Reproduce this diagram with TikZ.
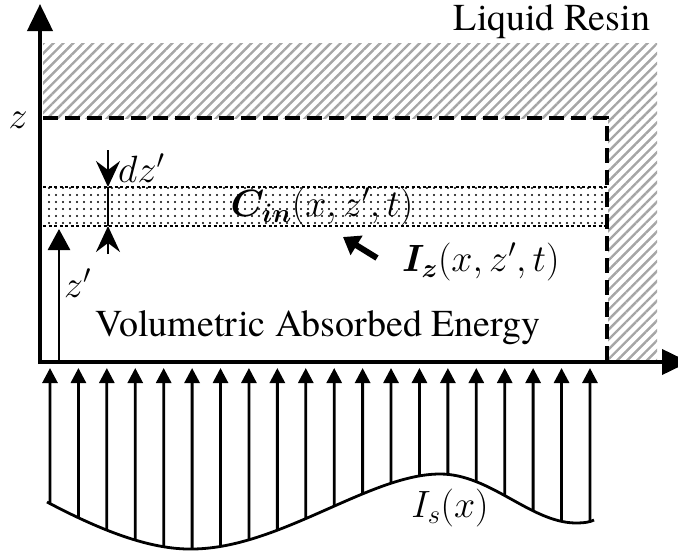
\RequirePackage{fix-cm}
\documentclass[tikz,border=0pt]{standalone}
\usepackage{amsmath}
\usepackage{bm}
\usepackage{fontspec}
\setmainfont{texgyretermes}[Extension=.otf,UprightFont=*-regular,BoldFont=*-bold,ItalicFont=*-italic,BoldItalicFont=*-bolditalic]
\usepackage{tikz}
\usetikzlibrary{arrows.meta,patterns.meta,intersections,calc}

\begin{document}
\begin{tikzpicture}[
  x=1pt,y=-1pt,
  font=\rmfamily\fontsize{38}{40}\selectfont,
  lbl/.style={inner sep=0pt},
  axis/.style={line width=4pt,-{Triangle[length=27pt,width=25pt]}},
  ray/.style={line width=2.8pt,-{Triangle[length=15pt,width=15pt]}},
  gap/.style={line width=2.6pt,-{Stealth[length=26pt,width=24pt,inset=9pt]}},
  flux/.style={line width=6pt,-{Triangle[length=16pt,width=22pt]}},
  resin/.style={pattern={Lines[angle=45,distance=7pt,line width=2.4pt]},pattern color=black!35},
  layer/.style={pattern={Dots[distance=7pt,radius=1.1pt]},pattern color=black},
  dotline/.style={line width=2.3pt,dash pattern=on 3pt off 2.5pt},
  bound/.style={line width=3.5pt,dash pattern=on 15pt off 7pt}
]
\useasboundingbox (0,0) rectangle (678,552);

% liquid resin around the cured part
\fill[resin] (43,43) rectangle (657,118);
\fill[resin] (608,118) rectangle (657,360);

% thin layer dz'
\fill[layer] (43,187) rectangle (607,226);
\draw[dotline] (43,187) -- (607,187);
\draw[dotline] (43,226) -- (607,226);

% cured boundary
\draw[bound] (43,118) -- (607,118) -- (607,360);

% axes
\coordinate (O) at (40,362);
\coordinate (ztop) at (40,4);
\coordinate (xend) at (689,362);
\draw[axis] (40,364) -- (ztop);
\draw[axis] (38,362) -- (xend);

% layer thickness
\coordinate (dtop) at (108,187);
\coordinate (dbot) at (108,226);
\draw[gap] (108,150) -- (dtop);
\draw[line width=2.6pt] (dtop) -- (dbot);
\draw[gap] (108,254) -- (dbot);

% height z'
\coordinate (zfoot) at (59,362);
\coordinate (zhead) at (59,229);
\draw[line width=2.8pt,-{Triangle[length=21pt,width=22pt]}] (zfoot) -- (zhead);

% local intensity
\coordinate (ftail) at (377,258);
\coordinate (fhead) at (343,237);
\draw[flux] (ftail) -- (fhead);

% source intensity profile
\draw[line width=2.8pt,name path=profile]
  (47,502) .. controls (100,530) and (150,550) .. (193,549)
  .. controls (280,548) and (370,474) .. (440,474)
  .. controls (490,474) and (530,522) .. (575,523)
  .. controls (585,523) and (590,522) .. (594,520);
\foreach \i in {0,...,19}{
  \pgfmathsetmacro\xx{50+28.42*\i}
  \path[name path=vert] (\xx,380) -- (\xx,600);
  \path[name intersections={of=vert and profile,by=foot}];
  \draw[ray] (foot) -- (\xx,368);
}

% labels
\node[lbl] (zlab) at (18,120) {$z$};
\node[lbl] (resinlab) at (552,22) {Liquid Resin};
\node[lbl,anchor=west] (dzlab) at (118,168) {$dz'$};
\node[lbl,anchor=west] (zplab) at (64,283) {$z'$};
\node[lbl] (cinlab) at (322,207) {$\bm{C}_{\bm{in}}(x,z',t)$};
\node[lbl,anchor=west] (izlab) at (402,262) {$\bm{I}_{\bm{z}}(x,z',t)$};
\node[lbl] (vollab) at (318,328) {Volumetric Absorbed Energy};
\node[lbl] (islab) at (450,508) {$I_s(x)$};
\end{tikzpicture}
\end{document}
